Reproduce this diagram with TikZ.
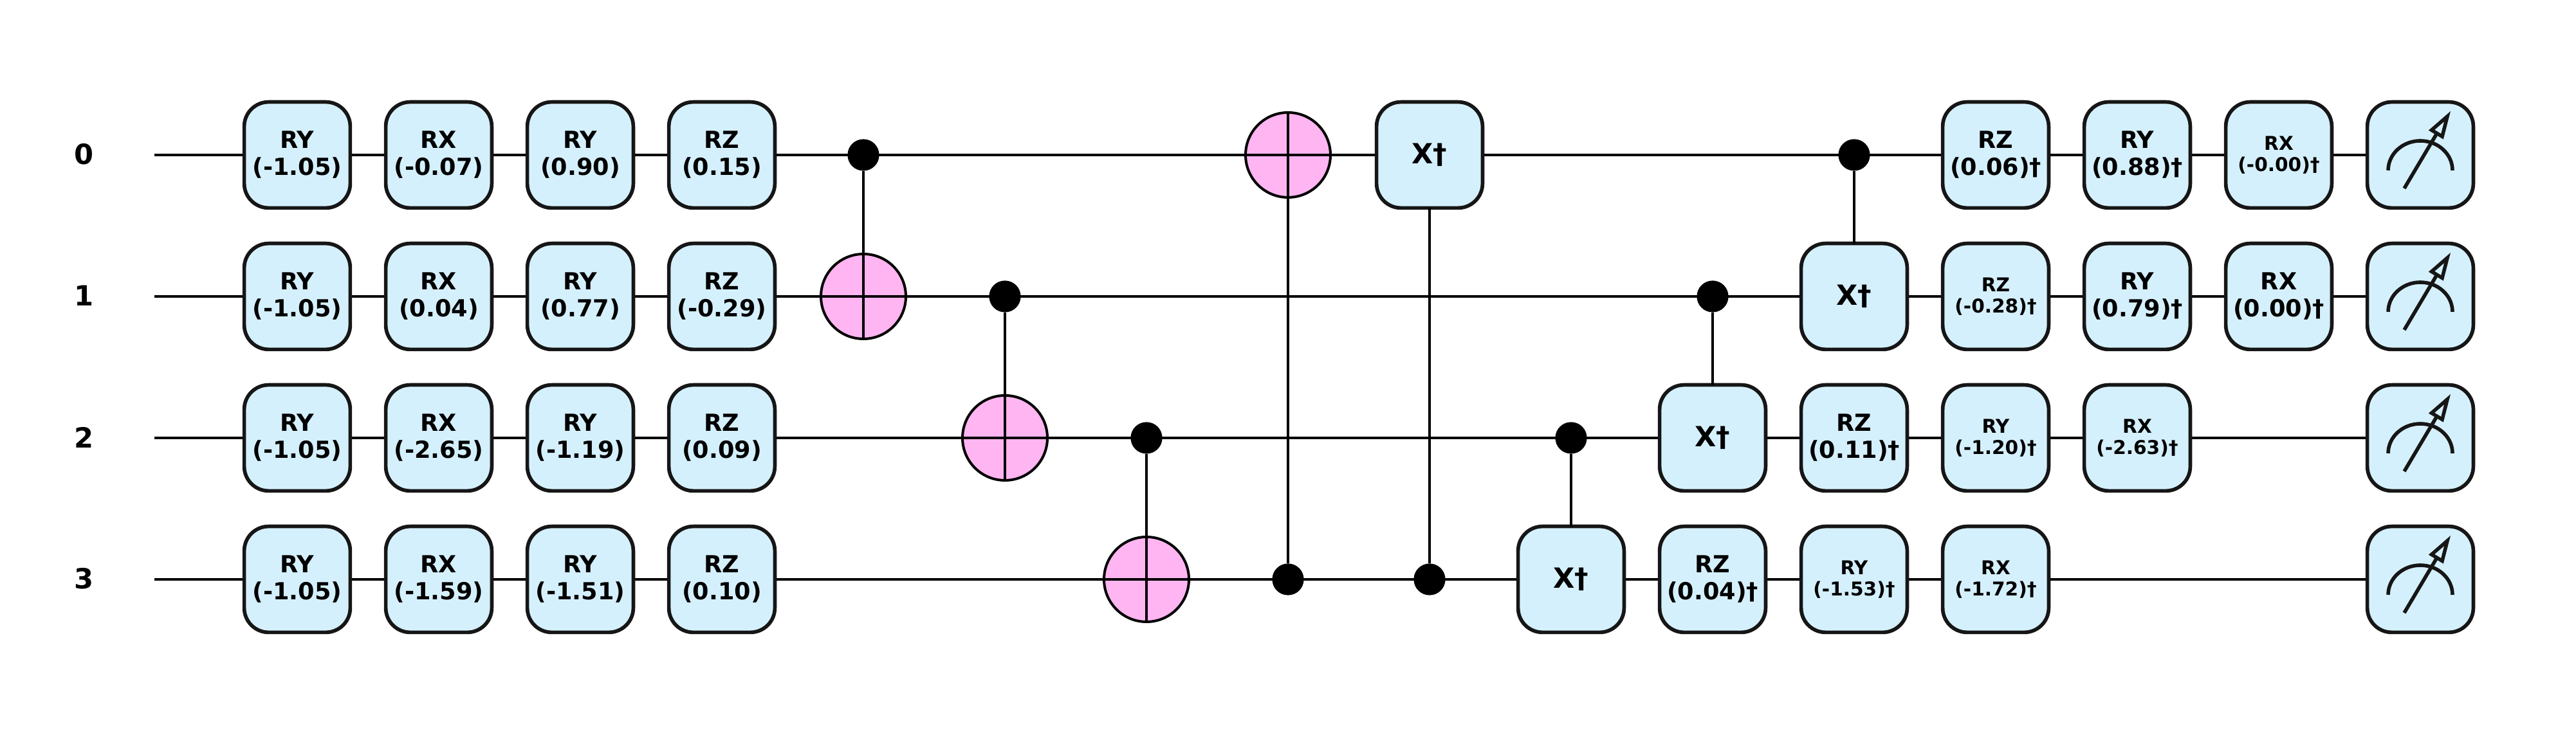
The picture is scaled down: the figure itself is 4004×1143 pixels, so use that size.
\documentclass[tikz,border=0pt]{standalone}
\usepackage{fontspec}
\setmainfont{DejaVu Sans}
\usetikzlibrary{backgrounds,calc}
\definecolor{gatefill}{HTML}{D5F0FD}
\definecolor{gateline}{HTML}{161616}
\definecolor{targetfill}{HTML}{FFB5F1}
\tikzset{
  x=0.25pt,y=0.25pt,
  wire/.style={draw=black,line width=1pt},
  gatebox/.style={draw=gateline,fill=gatefill,line width=1.42pt,rounded corners=9.5pt,
    minimum width=41.2pt,minimum height=41.2pt,inner sep=0pt,outer sep=0pt,align=center},
  biglabel/.style={gatebox,font=\bfseries\fontsize{9.15}{10.5}\selectfont},
  smalllabel/.style={gatebox,font=\bfseries\fontsize{7.4}{8.2}\selectfont},
  xlabel/.style={gatebox,font=\bfseries\fontsize{10.8}{12}\selectfont},
  ctrl/.style={circle,fill=black,minimum size=12.3pt,inner sep=0pt,outer sep=0pt},
  target/.style={circle,draw=black,fill=targetfill,line width=1pt,minimum size=33pt,inner sep=0pt,outer sep=0pt},
  qlabel/.style={font=\bfseries\fontsize{10.8}{12}\selectfont,inner sep=0pt},
  meterline/.style={draw=gateline,line width=1.4pt},
}
\begin{document}
\begin{tikzpicture}
\useasboundingbox (0,0) rectangle (4004,1143);
% wire starts and qubit labels
\foreach \r/\y in {0/902,1/682,2/462,3/242}{
  \coordinate (w\r) at (240,\y);
  \node[qlabel] (q\r) at (131,\y+1) {\r};
  \node[gatebox] (m\r) at (3762,\y) {};
  \draw[meterline] ($(m\r)+(-50,-24)$) arc[start angle=180,end angle=0,x radius=50,y radius=46];
  \draw[meterline] ($(m\r)+(-25,-52)$) -- ($(m\r)+(26,34)$);
  \draw[meterline,fill=gatefill,miter limit=10] ($(m\r)+(42,60)$) -- ($(m\r)+(17.5,38.7)$) -- ($(m\r)+(34,28.7)$) -- cycle;
}
% large-label gates
\foreach \n/\x/\y/\a/\b in {
 a0/462/902/RY/(-1.05), b0/682/902/RX/(-0.07), c0/902/902/RY/(0.90), d0/1122/902/RZ/(0.15),
 a1/462/682/RY/(-1.05), b1/682/682/RX/(0.04), c1/902/682/RY/(0.77), d1/1122/682/RZ/(-0.29),
 a2/462/462/RY/(-1.05), b2/682/462/RX/(-2.65), c2/902/462/RY/(-1.19), d2/1122/462/RZ/(0.09),
 a3/462/242/RY/(-1.05), b3/682/242/RX/(-1.59), c3/902/242/RY/(-1.51), d3/1122/242/RZ/(0.10),
 e0/3102/902/RZ/(0.06)†, f0/3322/902/RY/(0.88)†,
 f1/3322/682/RY/(0.79)†, g1/3542/682/RX/(0.00)†,
 e2/2882/462/RZ/(0.11)†, e3/2662/242/RZ/(0.04)†}{
  \node[biglabel] (\n) at (\x,\y) {\a\\\b};
}
% small-label gates
\foreach \n/\x/\y/\a/\b in {
 g0/3542/902/RX/(-0.00)†, e1/3102/682/RZ/(-0.28)†,
 f2/3102/462/RY/(-1.20)†, g2/3322/462/RX/(-2.63)†,
 f3/2882/242/RY/(-1.53)†, g3/3102/242/RX/(-1.72)†}{
  \node[smalllabel] (\n) at (\x,\y) {\a\\\b};
}
% controlled gates: X-dagger boxes
\node[xlabel] (x0) at (2222,902) {\raisebox{-0.5pt}{X†}};
\node[xlabel] (x1) at (2882,682) {\raisebox{-0.5pt}{X†}};
\node[xlabel] (x2) at (2662,462) {\raisebox{-0.5pt}{X†}};
\node[xlabel] (x3) at (2442,242) {\raisebox{-0.5pt}{X†}};
% targets
\node[target] (t1) at (1342,682) {};
\node[target] (t2) at (1562,462) {};
\node[target] (t3) at (1782,242) {};
\node[target] (t0) at (2002,902) {};
% controls
\node[ctrl] (k1) at (1342,902) {};
\node[ctrl] (k2) at (1562,682) {};
\node[ctrl] (k3) at (1782,462) {};
\node[ctrl] (k4) at (2002,242) {};
\node[ctrl] (k5) at (2222,242) {};
\node[ctrl] (k6) at (2442,462) {};
\node[ctrl] (k7) at (2662,682) {};
\node[ctrl] (k8) at (2882,902) {};
% cross in each target
\foreach \t in {t0,t1,t2,t3}{
  \draw[wire] (\t.west) -- (\t.east);
  \draw[wire] (\t.north) -- (\t.south);
}
% vertical connectors
\draw[wire] (k1) -- (t1);
\draw[wire] (k2) -- (t2);
\draw[wire] (k3) -- (t3);
\draw[wire] (k4) -- (t0);
\draw[wire] (k5) -- (x0);
\draw[wire] (k6) -- (x3);
\draw[wire] (k7) -- (x2);
\draw[wire] (k8) -- (x1);
% horizontal wires behind everything
\begin{scope}[on background layer]
\foreach \r in {0,1,2,3}{
  \draw[wire] (w\r) -- (m\r);
}
\end{scope}
\end{tikzpicture}
\end{document}
